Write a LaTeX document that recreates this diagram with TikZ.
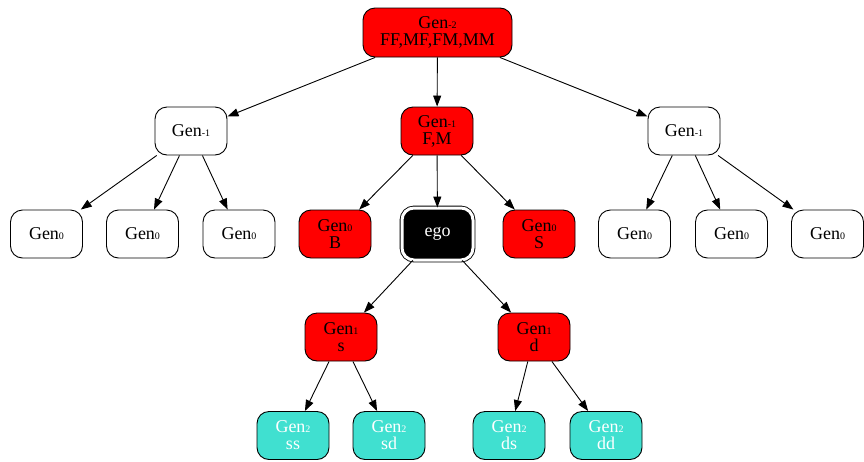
\documentclass[tikz,border=0pt]{standalone}
\usepackage{fontspec}
\setmainfont{Liberation Serif}
\usetikzlibrary{arrows.meta}
\definecolor{tq}{HTML}{40E0D0}
\newcommand{\gsub}[1]{{\fontsize{10}{10}\selectfont #1}}
\tikzset{
  gnode/.style={draw=black, line width=0.9pt, rounded corners=12pt, minimum width=72pt, minimum height=48pt,
    align=center, inner sep=2pt, font=\fontsize{18}{17}\selectfont},
  wnode/.style={gnode, fill=white},
  rnode/.style={gnode, fill=red},
  tnode/.style={gnode, fill=tq, text=white},
  egonode/.style={gnode, fill=black, text=white, minimum width=71pt, minimum height=52pt, double=white, double distance=3pt},
  edge/.style={draw=black, line width=0.9pt, -{Triangle[length=11pt,width=8pt]}}
}
\begin{document}
\begin{tikzpicture}[x=1pt,y=-1pt]
\useasboundingbox (0,0) rectangle (864,461);
\node[rnode, minimum width=149pt, minimum height=49pt] (top) at (437.5,32.5) {Gen\gsub{-2}\\FF,MF,FM,MM};
\node[wnode] (pl) at (191,131) {Gen\gsub{-1}};
\node[rnode] (pm) at (437,131) {Gen\gsub{-1}\\F,M};
\node[wnode] (pr) at (684,131) {Gen\gsub{-1}};
\node[wnode] (l1) at (46.5,234) {Gen\gsub{0}};
\node[wnode] (l2) at (142.5,234) {Gen\gsub{0}};
\node[wnode] (l3) at (239,234) {Gen\gsub{0}};
\node[rnode] (b) at (335,234) {Gen\gsub{0}\\B};
\node[egonode] (ego) at (437.5,234) {ego};
\node[rnode] (s) at (539,234) {Gen\gsub{0}\\S};
\node[wnode] (r1) at (634.5,234) {Gen\gsub{0}};
\node[wnode] (r2) at (731.5,234) {Gen\gsub{0}};
\node[wnode] (r3) at (827.5,234) {Gen\gsub{0}};
\node[rnode] (gs) at (341,337) {Gen\gsub{1}\\s};
\node[rnode] (gd) at (534,337) {Gen\gsub{1}\\d};
\node[tnode] (ss) at (293,435.5) {Gen\gsub{2}\\ss};
\node[tnode] (sd) at (389,435.5) {Gen\gsub{2}\\sd};
\node[tnode] (ds) at (509,435.5) {Gen\gsub{2}\\ds};
\node[tnode] (dd) at (606,435.5) {Gen\gsub{2}\\dd};
\draw[edge] (top) -- (pl);
\draw[edge] (top) -- (pm);
\draw[edge] (top) -- (pr);
\draw[edge] (pl) -- (l1);
\draw[edge] (pl) -- (l2);
\draw[edge] (pl) -- (l3);
\draw[edge] (pm) -- (b);
\draw[edge] (pm) -- (ego);
\draw[edge] (pm) -- (s);
\draw[edge] (pr) -- (r1);
\draw[edge] (pr) -- (r2);
\draw[edge] (pr) -- (r3);
\draw[edge] (ego) -- (gs);
\draw[edge] (ego) -- (gd);
\draw[edge] (gs) -- (ss);
\draw[edge] (gs) -- (sd);
\draw[edge] (gd) -- (ds);
\draw[edge] (gd) -- (dd);
\end{tikzpicture}
\end{document}
